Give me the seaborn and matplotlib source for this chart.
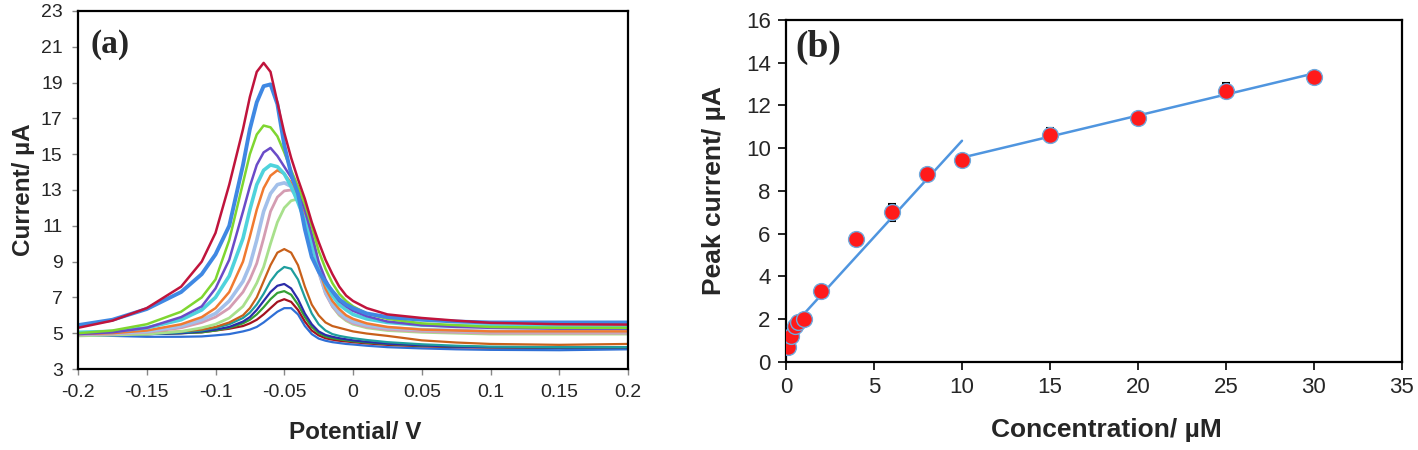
import pandas as pd
import matplotlib
matplotlib.use("Agg")
import matplotlib.pyplot as plt
import seaborn as sns

# --- Panel (a): DPV curves ---
potential = [-0.2, -0.175, -0.15, -0.125, -0.11, -0.1, -0.09, -0.08, -0.075, -0.07,
             -0.065, -0.06, -0.055, -0.05, -0.045, -0.04, -0.035, -0.03, -0.025, -0.02,
             -0.015, -0.01, -0.005, 0.0, 0.01, 0.025, 0.05, 0.075, 0.1, 0.15, 0.2]

i_red = [5.3, 5.7, 6.4, 7.6, 9.0, 10.6, 13.3, 16.4, 18.2, 19.6, 20.1, 19.6, 17.9, 16.2, 14.8,
         13.6, 12.5, 11.2, 10.1, 9.1, 8.3, 7.6, 7.1, 6.8, 6.4, 6.05, 5.85, 5.7, 5.58, 5.5, 5.48]
i_blue = [5.45, 5.75, 6.35, 7.3, 8.3, 9.4, 11.0, 14.4, 16.4, 17.9, 18.8, 18.9, 17.8, 15.5, 13.9,
          12.8, 10.8, 9.25, 8.45, 7.85, 7.35, 6.9, 6.6, 6.4, 6.1, 5.9, 5.75, 5.65, 5.6, 5.6, 5.6]
i_green = [5.0, 5.15, 5.5, 6.2, 7.0, 8.0, 10.2, 13.4, 15.0, 16.1, 16.6, 16.5, 16.0, 15.1, 14.1,
           13.2, 12.2, 11.0, 9.6, 8.6, 7.8, 7.2, 6.8, 6.5, 6.1, 5.8, 5.55, 5.45, 5.35, 5.3, 5.3]
i_purple = [4.95, 5.05, 5.3, 5.9, 6.5, 7.5, 9.1, 11.8, 13.2, 14.4, 15.1, 15.35, 14.9, 14.3, 13.7,
            12.9, 11.9, 10.5, 9.0, 8.0, 7.3, 6.8, 6.5, 6.25, 5.95, 5.65, 5.45, 5.35, 5.3, 5.25, 5.25]
i_cyan = [5.05, 5.1, 5.3, 5.75, 6.3, 7.0, 8.2, 10.3, 11.9, 13.3, 14.1, 14.4, 14.3, 13.9, 13.2,
          12.3, 11.3, 10.0, 8.7, 7.8, 7.1, 6.6, 6.3, 6.05, 5.8, 5.6, 5.45, 5.4, 5.4, 5.35, 5.35]
i_orange = [4.95, 5.0, 5.15, 5.5, 5.9, 6.4, 7.3, 9.0, 10.4, 11.9, 13.1, 13.8, 14.1, 13.9, 13.4,
            12.6, 11.5, 10.2, 8.6, 7.5, 6.8, 6.35, 6.0, 5.8, 5.55, 5.35, 5.2, 5.15, 5.1, 5.1, 5.1]
i_lavender = [4.95, 5.0, 5.1, 5.4, 5.75, 6.1, 6.8, 7.9, 8.8, 10.2, 11.8, 12.8, 13.3, 13.4, 13.2,
              12.6, 11.6, 10.2, 8.5, 7.3, 6.6, 6.15, 5.85, 5.65, 5.45, 5.3, 5.2, 5.15, 5.1, 5.1, 5.1]
i_pink = [4.9, 4.95, 5.05, 5.3, 5.6, 5.9, 6.4, 7.3, 8.0, 8.9, 10.3, 11.8, 12.6, 12.95, 13.0,
          12.6, 11.6, 10.1, 8.4, 7.2, 6.5, 6.05, 5.75, 5.55, 5.35, 5.2, 5.1, 5.05, 5.0, 5.0, 5.0]
i_palegreen = [4.85, 4.9, 4.95, 5.1, 5.3, 5.5, 5.85, 6.5, 7.1, 7.8, 8.7, 10.0, 11.2, 12.0, 12.4,
               12.5, 12.0, 10.6, 8.8, 7.4, 6.5, 6.0, 5.7, 5.5, 5.3, 5.15, 5.05, 5.0, 4.95, 4.95, 4.95]
i_brown = [4.9, 4.95, 5.0, 5.1, 5.2, 5.35, 5.6, 6.0, 6.4, 7.0, 7.9, 8.8, 9.5, 9.7, 9.5,
           8.8, 7.6, 6.6, 6.0, 5.6, 5.4, 5.3, 5.2, 5.1, 4.98, 4.85, 4.6, 4.48, 4.4, 4.35, 4.4]
i_teal = [4.9, 4.9, 4.95, 5.05, 5.15, 5.3, 5.5, 5.85, 6.15, 6.6, 7.2, 7.9, 8.4, 8.7, 8.6,
          8.0, 7.0, 6.1, 5.5, 5.15, 4.95, 4.85, 4.78, 4.72, 4.62, 4.5, 4.38, 4.3, 4.25, 4.22, 4.22]
i_indigo = [4.9, 4.9, 4.95, 5.0, 5.1, 5.2, 5.35, 5.65, 5.9, 6.3, 6.8, 7.3, 7.65, 7.75, 7.5,
            6.9, 6.1, 5.5, 5.1, 4.9, 4.8, 4.72, 4.66, 4.6, 4.52, 4.42, 4.32, 4.25, 4.22, 4.2, 4.2]
i_green2 = [4.95, 4.95, 4.95, 5.0, 5.05, 5.15, 5.3, 5.55, 5.75, 6.05, 6.45, 6.9, 7.25, 7.35, 7.15,
            6.6, 5.9, 5.35, 5.0, 4.82, 4.72, 4.66, 4.6, 4.55, 4.48, 4.4, 4.3, 4.25, 4.22, 4.2, 4.2]
i_darkred = [4.95, 4.95, 4.95, 5.0, 5.05, 5.15, 5.25, 5.4, 5.55, 5.75, 6.05, 6.4, 6.75, 6.9, 6.75,
             6.3, 5.65, 5.15, 4.88, 4.72, 4.64, 4.58, 4.54, 4.5, 4.43, 4.35, 4.27, 4.22, 4.2, 4.18, 4.2]
i_blue2 = [4.9, 4.85, 4.8, 4.8, 4.82, 4.88, 4.95, 5.1, 5.2, 5.35, 5.6, 5.9, 6.2, 6.4, 6.4,
           6.05, 5.4, 4.95, 4.7, 4.58, 4.5, 4.45, 4.4, 4.37, 4.3, 4.22, 4.15, 4.1, 4.07, 4.05, 4.1]

# (values, colour, linewidth) in drawing order
curves_a = [
    (i_blue2, "#2f6fd6", 1.6), (i_darkred, "#a3121f", 1.6), (i_green2, "#35a035", 1.6),
    (i_indigo, "#2b2ba8", 1.6), (i_teal, "#1e9e9e", 1.6), (i_brown, "#c8601a", 1.6),
    (i_palegreen, "#a8e08c", 2.0), (i_pink, "#d49cb2", 2.0), (i_lavender, "#a3c0ea", 2.6),
    (i_orange, "#f07a30", 1.8), (i_cyan, "#4fd3dc", 2.6), (i_purple, "#6a4bc8", 1.8),
    (i_green, "#7fd630", 1.8), (i_blue, "#3f88e3", 2.8), (i_red, "#c0143c", 1.8),
]

# --- Panel (b): calibration ---
conc = [0.1, 0.3, 0.5, 0.7, 1.0, 2.0, 4.0, 6.0, 8.0, 10.0, 15.0, 20.0, 25.0, 30.0]
peak_current = [0.72, 1.2, 1.7, 1.85, 2.03, 3.33, 5.75, 7.0, 8.78, 9.45, 10.62, 11.4, 12.7, 13.33]
peak_err = [0.05, 0.1, 0.15, 0.1, 0.2, 0.15, 0.3, 0.4, 0.15, 0.2, 0.32, 0.25, 0.35, 0.15]
fit_low_x = [0.1, 10.0]
fit_low_y = [1.42, 10.35]
fit_high_x = [10.05, 30.0]
fit_high_y = [9.57, 13.5]

sns.set_style("ticks")
plt.rcParams["font.family"] = ["Liberation Sans", "DejaVu Sans"]
plt.rcParams["axes.unicode_minus"] = False

fig = plt.figure(figsize=(14.18, 4.5), dpi=100)
ax1 = fig.add_axes([0.055, 0.18, 0.3879, 0.7956])
ax2 = fig.add_axes([0.5543, 0.1956, 0.4344, 0.76])

for vals, col, lw in curves_a:
    d = pd.DataFrame({"Potential": potential, "Current": vals})
    sns.lineplot(data=d, x="Potential", y="Current", color=col, linewidth=lw,
                 sort=False, estimator=None, ax=ax1)

ax1.set_xlim(-0.2, 0.2)
ax1.set_ylim(3, 23)
xt_a = [-0.2, -0.15, -0.1, -0.05, 0, 0.05, 0.1, 0.15, 0.2]
ax1.set_xticks(xt_a)
ax1.set_xticklabels(["-0.2", "-0.15", "-0.1", "-0.05", "0", "0.05", "0.1", "0.15", "0.2"])
ax1.set_yticks(list(range(3, 24, 2)))
ax1.tick_params(labelsize=14, length=4, width=1, color="#888888", pad=7)
ax1.set_xlabel("Potential/ V", fontsize=17.5, fontweight="bold")
ax1.set_ylabel("Current/ µA", fontsize=17.5, fontweight="bold")
ax1.xaxis.set_label_coords(0.504, -0.145)
ax1.yaxis.set_label_coords(-0.078, 0.5)
ax1.text(0.022, 0.905, "(a)", transform=ax1.transAxes, fontsize=24, fontweight="bold",
         family="Liberation Serif", va="center", ha="left")

ax2.errorbar(conc, peak_current, yerr=peak_err, fmt="none", ecolor="black",
             elinewidth=1, capsize=3, capthick=1.5, zorder=2)
sns.lineplot(x=fit_low_x, y=fit_low_y, color="#4f95df", linewidth=1.8, ax=ax2, zorder=3)
sns.lineplot(x=fit_high_x, y=fit_high_y, color="#4f95df", linewidth=1.8, ax=ax2, zorder=3)
sns.scatterplot(x=conc, y=peak_current, color="#ff1a1a", edgecolor="#6fa8dc",
                linewidth=1, s=130, ax=ax2, zorder=4)
ax2.set_xlim(0, 35)
ax2.set_ylim(0, 16)
ax2.set_xticks(list(range(0, 36, 5)))
ax2.set_yticks(list(range(0, 17, 2)))
ax2.tick_params(labelsize=16, length=6, width=1.2, color="black", pad=5)
ax2.set_xlabel("Concentration/ µM", fontsize=19, fontweight="bold")
ax2.set_ylabel("Peak current/ µA", fontsize=19, fontweight="bold")
ax2.xaxis.set_label_coords(0.52, -0.165)
ax2.yaxis.set_label_coords(-0.097, 0.5)
ax2.text(0.015, 0.92, "(b)", transform=ax2.transAxes, fontsize=27, fontweight="bold",
         family="Liberation Serif", va="center", ha="left")

for ax in (ax1, ax2):
    for sp in ax.spines.values():
        sp.set_visible(True)
        sp.set_color("black")
        sp.set_linewidth(1.6)

fig.savefig("out.png", dpi=100)
